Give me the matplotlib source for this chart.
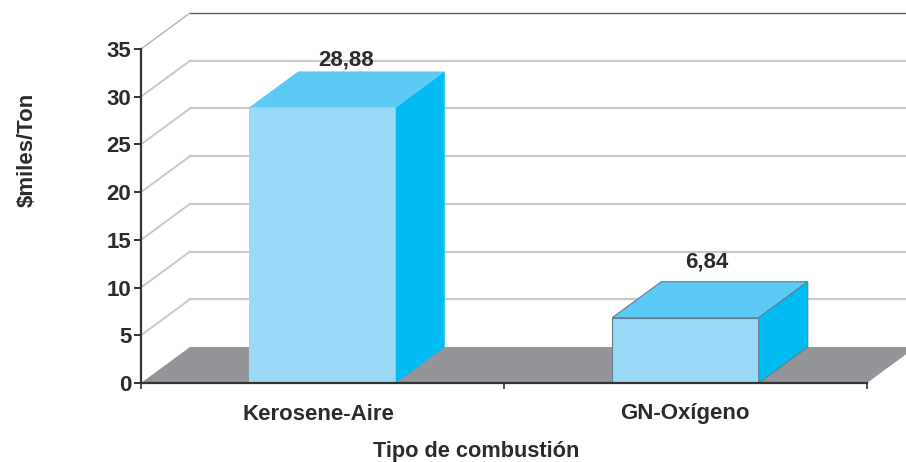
import matplotlib
matplotlib.use('Agg')
import matplotlib.pyplot as plt

categorias = ['Kerosene-Aire', 'GN-Oxígeno']
valores = [28.88, 6.84]
etiquetas = ['28,88', '6,84']
y_ticks = [0, 5, 10, 15, 20, 25, 30, 35]

plt.rcParams['font.family'] = ['Liberation Sans', 'DejaVu Sans']
plt.rcParams['font.weight'] = 'bold'

W, H = 906, 462
fig = plt.figure(figsize=(W / 100, H / 100), dpi=100)
# eje en pixeles: x 141-867, y 383-49
ax = fig.add_axes([141 / W, 1 - 383 / H, 726 / W, 334 / H])
ax.set_xlim(0, 2)
ax.set_ylim(0, 35)

# profundidad del efecto 3D
dx = 49 / 363
dy = 36 / (334 / 35)
ancho = 146.5 / 363
xfin = 2 + dx + 0.1
texto = '#2b2b2b'

# piso
ax.fill([0, 2, 2 + dx, 0 + dx], [0, 0, dy, dy], color='#939598', lw=0, zorder=1, clip_on=False)

# lineas de fondo
for t in y_ticks[1:]:
    c = '#5a5a5a' if t == 35 else '#c9c9c9'
    lw = 1.0 if t == 35 else 1.6
    ax.plot([dx, xfin], [t + dy, t + dy], color=c, lw=lw, zorder=1, clip_on=False)
    ax.plot([0, dx], [t, t + dy], color='#b5b5b5' if t == 35 else '#c9c9c9', lw=1.0 if t == 35 else 1.4,
            zorder=1, clip_on=False)

# separacion de la etiqueta sobre cada barra, en pixeles
sep_etiqueta = [11, 20]
# correccion horizontal de cada etiqueta, en pixeles
corr_etiqueta = [-1, -3]
corr_categoria = [-4, -1]

# barras
for i, v in enumerate(valores):
    x0 = i + 0.5 - ancho / 2
    x1 = i + 0.5 + ancho / 2
    ec = '#5f7f92' if i == 1 else 'none'
    lw = 0.8 if i == 1 else 0
    ax.bar(i + 0.5, v, width=ancho, color='#9bd8f6', edgecolor=ec, linewidth=lw, zorder=3)
    ax.fill([x0, x1, x1 + dx, x0 + dx], [v, v, v + dy, v + dy], facecolor='#5bcaf5', edgecolor=ec, lw=lw,
            zorder=3, clip_on=False)
    ax.fill([x1, x1 + dx, x1 + dx, x1], [0, dy, v + dy, v], facecolor='#00bcf2', edgecolor=ec, lw=lw,
            zorder=3, clip_on=False)
    ax.annotate(etiquetas[i], xy=(i + 0.5 + dx / 2, v + dy), xytext=(corr_etiqueta[i], sep_etiqueta[i]),
                textcoords='offset pixels', ha='center', va='center', fontsize=16, color=texto, zorder=4)
    ax.annotate(categorias[i], xy=(i + 0.5, 0), xytext=(corr_categoria[i], -31), textcoords='offset pixels',
                ha='center', va='center', fontsize=16, color=texto, annotation_clip=False)

ax.spines['top'].set_visible(False)
ax.spines['right'].set_visible(False)
ax.spines['left'].set_color('#333333')
ax.spines['left'].set_linewidth(1.6)
ax.spines['bottom'].set_color('#333333')
ax.spines['bottom'].set_linewidth(1.6)
ax.spines['left'].set_zorder(5)
ax.spines['bottom'].set_zorder(5)

ax.set_yticks(y_ticks)
ax.set_xticks([0, 1, 2])
ax.set_xticklabels([])
ax.tick_params(axis='x', length=4, width=1.2, color='#333333')
ax.tick_params(axis='y', length=5, width=1.4, color='#333333', pad=2, labelsize=16, labelcolor=texto)

fig.text(476 / W, 1 - 451.5 / H, 'Tipo de combustión', ha='center', va='center', fontsize=15.7, color=texto)
fig.text(27.5 / W, 1 - 150 / H, r'\$miles/Ton', rotation=90, ha='center', va='center', fontsize=16, color=texto)

fig.savefig('out.png', dpi=100)
